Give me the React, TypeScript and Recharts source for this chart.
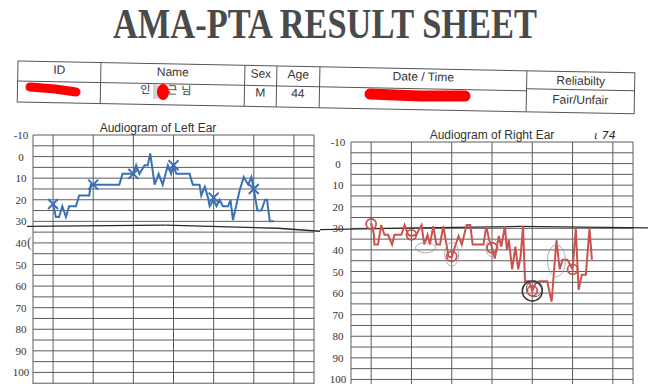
import React from "react";
import { ComposedChart, Line, XAxis, YAxis, ReferenceLine, ReferenceDot } from "recharts";

// grid of the audiogram form: frequency columns and 5 dB rows
const FREQ_LINES = [-0.5, 0, 1, 2, 3, 4, 5, 6, 6.5];
const DB_LINES = [-10, -5, 0, 5, 10, 15, 20, 25, 30, 35, 40, 45, 50, 55, 60, 65, 70, 75, 80, 85, 90, 95, 100, 105, 110];
const DB_LABELS = [-10, 0, 10, 20, 30, 40, 50, 60, 70, 80, 90, 100];

// left ear trace (blue) and its X markers
const LEFT_TRACE_X = [0, 0.07, 0.15, 0.23, 0.32, 0.4, 0.57, 0.65, 0.9, 0.94, 1, 1.65, 1.73, 1.94, 2, 2.07, 2.15, 2.28, 2.36, 2.42, 2.53, 2.63, 2.73, 2.86, 2.94, 3, 3.07, 3.4, 3.48, 3.65, 3.69, 3.78, 3.86, 3.9, 4, 4.07, 4.15, 4.23, 4.36, 4.42, 4.48, 4.65, 4.75, 4.86, 4.94, 5, 5.09, 5.19, 5.28, 5.33, 5.4, 5.5];
const LEFT_TRACE_DB = [22, 28, 28, 23, 28, 23, 23, 18, 18, 13, 13, 13, 8, 8, 8, 4, 8, 4, 4, -1.5, 13, 8, 13, 4, 8, 4, 8, 8, 13, 13, 18, 14, 19, 23, 20, 23, 20, 23, 23, 20, 29.5, 15.5, 9.5, 13, 9.5, 15, 25, 25, 20, 20, 30, 30];
const LEFT_MARK_X = [0, 1, 2, 3, 4, 5];
const LEFT_MARK_DB = [22, 13, 8, 4, 19, 15];

// right ear trace (red) and its O markers
const RIGHT_TRACE_X = [0, 0.07, 0.08, 0.17, 0.25, 0.33, 0.42, 0.52, 0.58, 0.75, 0.83, 0.92, 1, 1.12, 1.25, 1.32, 1.4, 1.46, 1.54, 1.62, 1.71, 1.79, 1.87, 1.92, 2, 2.08, 2.17, 2.25, 2.37, 2.46, 2.52, 2.79, 2.86, 2.93, 3, 3.07, 3.17, 3.23, 3.32, 3.37, 3.42, 3.5, 3.58, 3.65, 3.71, 3.77, 3.82, 3.92, 4, 4.08, 4.17, 4.37, 4.48, 4.6, 4.68, 4.75, 4.87, 5, 5.08, 5.15, 5.23, 5.33, 5.42, 5.48];
const RIGHT_TRACE_DB = [27.5, 33, 37.5, 37.5, 28.5, 33, 33, 37.5, 33, 33, 28.5, 33, 33.5, 33, 28.5, 37.5, 33, 37.5, 29, 37.5, 37.5, 29, 37.5, 43, 43.5, 38.5, 33.5, 37.5, 28.5, 28.5, 37.5, 37.5, 29, 35.5, 39, 44, 33.5, 38.5, 29, 40, 35.5, 49, 38.5, 49, 43, 29, 54.5, 54.5, 59, 55.5, 54.5, 54.5, 64, 35.5, 49, 44.5, 44.5, 49, 30, 58.5, 51.5, 51.5, 30, 44.5];
const RIGHT_MARK_X = [0, 1, 2, 3, 4, 5];
const RIGHT_MARK_DB = [28, 33, 43, 39, 59, 49];

// pencil loops drawn over the right ear result: centre (freq, dB) and size
const LOOP_X = [2, 3, 4.6, 1.35];
const LOOP_DB = [42, 39, 45, 39];
const LOOP_RX = [7, 6, 9, 10];
const LOOP_RY = [12, 9, 16, 5];

const zip = (xs: number[], ys: number[]) => xs.map((x, i) => ({ x, y: ys[i] }));

const GRID = "#5c5c5c";
const BLUE = "#3b70b3";
const RED = "#c9534f";

const dbTick = (labelX: number) => (props: any) => (
  <text
    x={labelX}
    y={props.y + 4}
    textAnchor="middle"
    fontFamily="'Liberation Serif', serif"
    fontSize={11}
    fill="#333"
  >
    {props.payload.value}
  </text>
);

const XMark = (props: any) => {
  const { cx, cy, index } = props;
  if (cx == null || cy == null) return <g key={index} />;
  return (
    <g key={index} stroke={BLUE} strokeWidth={2}>
      <line x1={cx - 5} y1={cy - 5} x2={cx + 5} y2={cy + 5} />
      <line x1={cx - 5} y1={cy + 5} x2={cx + 5} y2={cy - 5} />
    </g>
  );
};

const OMark = (props: any) => {
  const { cx, cy, index } = props;
  if (cx == null || cy == null) return <g key={index} />;
  return <circle key={index} cx={cx} cy={cy} r={5} fill="none" stroke={RED} strokeWidth={1.8} />;
};

const loopShape = (rx: number, ry: number) => (props: any) => (
  <ellipse cx={props.cx} cy={props.cy} rx={rx} ry={ry} fill="none" stroke="#9a9a9a" strokeWidth={0.8} />
);

type EarProps = {
  width: number;
  height: number;
  top: number;
  right: number;
  axisWidth: number;
  labelX: number;
  trace: { x: number; y: number }[];
  marks: { x: number; y: number }[];
  color: string;
  mark: (p: any) => React.ReactElement;
  hand: { x: number; y: number }[];
  children?: React.ReactNode;
};

function Audiogram(p: EarProps) {
  return (
    <ComposedChart width={p.width} height={p.height} margin={{ top: p.top, right: p.right, bottom: 0, left: 0 }}>
      <XAxis type="number" dataKey="x" domain={[-0.5, 6.5]} allowDataOverflow hide />
      <YAxis
        type="number"
        dataKey="y"
        domain={[-10, 110]}
        reversed
        allowDataOverflow
        ticks={DB_LABELS}
        interval={0}
        tick={dbTick(p.labelX)}
        axisLine={false}
        tickLine={false}
        width={p.axisWidth}
      />
      {DB_LINES.map((v) => (
        <ReferenceLine key={"h" + v} y={v} stroke={GRID} strokeWidth={1} />
      ))}
      {FREQ_LINES.map((v) => (
        <ReferenceLine key={"v" + v} x={v} stroke={GRID} strokeWidth={1} />
      ))}
      {p.hand.slice(1).map((pt, i) => (
        <ReferenceLine
          key={"hand" + i}
          segment={[p.hand[i], pt]}
          ifOverflow="visible"
          stroke="#2a2a2a"
          strokeWidth={1.3}
        />
      ))}
      {p.children}
      <Line
        data={p.trace}
        dataKey="y"
        type="linear"
        stroke={p.color}
        strokeWidth={2}
        dot={false}
        isAnimationActive={false}
      />
      <Line
        data={p.marks}
        dataKey="y"
        stroke="none"
        dot={p.mark}
        activeDot={false}
        isAnimationActive={false}
      />
    </ComposedChart>
  );
}

const sans = "'Liberation Sans', Arial, sans-serif";
const kr = "'Noto Sans CJK KR', sans-serif";

function Header() {
  const cols = [18, 101, 245, 277, 320, 527, 635];
  const top = 61;
  const mid = 81;
  const bottom = 102;
  const cell = (i: number) => (cols[i] + cols[i + 1]) / 2;
  return (
    <svg width={648} height={384} style={{ position: "absolute", left: 0, top: 0, pointerEvents: "none" }}>
      <text
        x={113}
        y={37.5}
        fontFamily="'Liberation Serif', 'Times New Roman', serif"
        fontWeight="bold"
        fontSize={42}
        fill="#4a4a4a"
        textLength={424}
        lengthAdjust="spacingAndGlyphs"
      >
        AMA-PTA RESULT SHEET
      </text>
      <g transform={`rotate(1.1 ${cols[0]} ${top})`} fontFamily={sans} fontSize={12} fill="#333" textAnchor="middle">
        <rect x={cols[0]} y={top} width={cols[6] - cols[0]} height={bottom - top} fill="none" stroke="#555" strokeWidth={1} />
        <line x1={cols[0]} y1={mid} x2={cols[5]} y2={mid} stroke="#555" />
        <line x1={cols[5]} y1={mid - 2} x2={cols[6]} y2={mid - 2} stroke="#555" />
        {cols.slice(1, 6).map((c) => (
          <line key={c} x1={c} y1={top} x2={c} y2={bottom} stroke="#555" />
        ))}
        <text x={cell(0)} y={top + 12}>ID</text>
        <text x={cell(1)} y={top + 12}>Name</text>
        <text x={cell(2)} y={top + 12}>Sex</text>
        <text x={cell(3)} y={top + 12}>Age</text>
        <text x={cell(4)} y={top + 12}>Date / Time</text>
        <text x={cell(5)} y={top + 13}>Reliabilty</text>
        <text x={146} y={top + 30} fontFamily={kr} fontSize={11}>인</text>
        <text x={173} y={top + 30} fontFamily={kr} fontSize={11}>근</text>
        <text x={187} y={top + 30} fontFamily={kr} fontSize={11}>님</text>
        <text x={cell(2)} y={top + 31}>M</text>
        <text x={cell(3)} y={top + 31}>44</text>
        <text x={cell(5)} y={top + 32}>Fair/Unfair</text>
      </g>
      {/* redaction marks */}
      <polyline points="30,87 55,89 76,92" fill="none" stroke="#ff0000" strokeWidth={9} strokeLinecap="round" strokeLinejoin="round" />
      <rect x={153} y={84} width={5} height={15} fill="#d4d4d4" />
      <ellipse cx={163} cy={92} rx={6} ry={8} fill="#ff0000" />
      <polyline points="370,94 420,96 465,96" fill="none" stroke="#ff0000" strokeWidth={11} strokeLinecap="round" />
      {/* chart titles and pen notes */}
      <text x={158} y={132} textAnchor="middle" fontFamily={sans} fontSize={12} fill="#333">
        Audiogram of Left Ear
      </text>
      <text x={492} y={139} textAnchor="middle" fontFamily={sans} fontSize={12} fill="#333">
        Audiogram of Right Ear
      </text>
      <text x={594} y={139} fontFamily="'DejaVu Sans', sans-serif" fontStyle="italic" fontSize={11} fill="#222">
        ɩ 74
      </text>
      <text x={27} y={247} fontFamily="'Liberation Serif', serif" fontSize={14} fill="#555">
        (
      </text>
    </svg>
  );
}

export default function App() {
  return (
    <div
      style={{
        position: "absolute",
        left: 0,
        top: 0,
        width: 648,
        height: 384,
        overflow: "hidden",
        background: "#fff",
      }}
    >
      <div style={{ position: "absolute", left: 0, top: 0 }}>
        <Audiogram
          width={320}
          height={394}
          top={135}
          right={6}
          axisWidth={33}
          labelX={21}
          trace={zip(LEFT_TRACE_X, LEFT_TRACE_DB)}
          marks={zip(LEFT_MARK_X, LEFT_MARK_DB)}
          color={BLUE}
          mark={XMark}
          hand={[
            { x: -0.65, y: 32.3 },
            { x: 2.8, y: 31.8 },
            { x: 5.6, y: 33.2 },
            { x: 6.65, y: 34.6 },
          ]}
        />
      </div>
      <div style={{ position: "absolute", left: 320, top: 0 }}>
        <Audiogram
          width={328}
          height={401}
          top={142}
          right={15}
          axisWidth={31}
          labelX={18}
          trace={zip(RIGHT_TRACE_X, RIGHT_TRACE_DB)}
          marks={zip(RIGHT_MARK_X, RIGHT_MARK_DB)}
          color={RED}
          mark={OMark}
          hand={[
            { x: -1.3, y: 30.6 },
            { x: 1.2, y: 29.8 },
            { x: 3.7, y: 29.1 },
            { x: 6.95, y: 29.8 },
          ]}
        >
          {LOOP_X.map((x, i) => (
            <ReferenceDot
              key={"loop" + i}
              x={x}
              y={LOOP_DB[i]}
              ifOverflow="visible"
              shape={loopShape(LOOP_RX[i], LOOP_RY[i])}
            />
          ))}
          <ReferenceDot x={4} y={59} r={10} fill="none" stroke="#333" strokeWidth={1.5} ifOverflow="visible" />
          <ReferenceDot x={4.05} y={58} r={8} fill="none" stroke="#555" strokeWidth={1} ifOverflow="visible" />
        </Audiogram>
      </div>
      <Header />
    </div>
  );
}
